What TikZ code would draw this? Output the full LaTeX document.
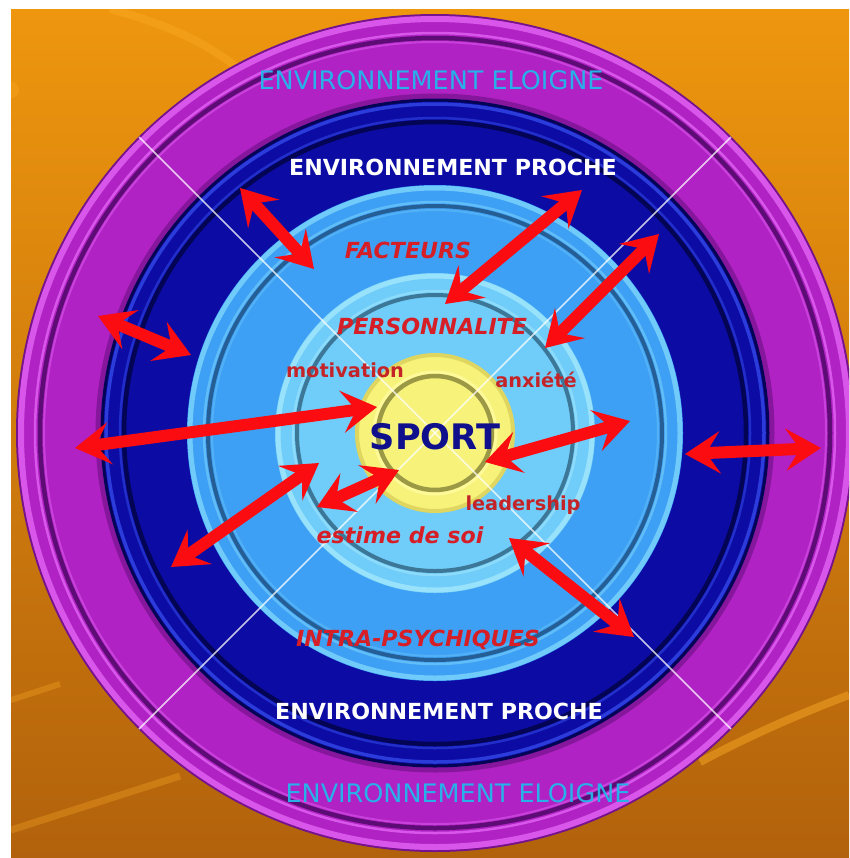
\documentclass[tikz,border=0pt]{standalone}
\usepackage{fontspec}
\setmainfont{DejaVu Sans}
\usetikzlibrary{arrows.meta}
\definecolor{bgtop}{RGB}{238,150,14}
\definecolor{bgbottom}{RGB}{178,98,12}
\definecolor{swoosh}{RGB}{255,176,40}
\definecolor{farring}{RGB}{176,34,196}
\definecolor{farrim}{RGB}{216,86,234}
\definecolor{fardark}{RGB}{92,12,116}
\definecolor{nearring}{RGB}{12,12,165}
\definecolor{neardark}{RGB}{4,4,84}
\definecolor{nearrim}{RGB}{44,60,218}
\definecolor{factring}{RGB}{62,160,244}
\definecolor{factdark}{RGB}{30,78,126}
\definecolor{factrim}{RGB}{112,202,250}
\definecolor{persring}{RGB}{112,204,248}
\definecolor{persdark}{RGB}{48,98,128}
\definecolor{persrim}{RGB}{152,226,252}
\definecolor{core}{RGB}{246,242,122}
\definecolor{coreedge}{RGB}{222,214,96}
\definecolor{coredark}{RGB}{140,138,60}
\definecolor{eloigne}{RGB}{40,176,232}
\definecolor{facteur}{RGB}{214,30,38}
\definecolor{traitred}{RGB}{196,36,40}
\definecolor{sportblue}{RGB}{16,16,140}
\definecolor{arrowred}{RGB}{250,12,16}
\tikzset{link/.style={draw=arrowred,line width=2.4mm,
           {Stealth[length=7mm,width=8.4mm,inset=2.8mm]}-{Stealth[length=7mm,width=8.4mm,inset=2.8mm]}},
         axis/.style={draw=white,line width=0.3mm,opacity=0.75},
         farlabel/.style={inner sep=0pt,text=eloigne,font=\fontsize{14.5}{14.5}\selectfont},
         nearlabel/.style={inner sep=0pt,text=white,font=\bfseries\fontsize{12.6}{12.6}\selectfont},
         factorlabel/.style={inner sep=0pt,text=facteur,font=\bfseries\itshape\fontsize{12.6}{12.6}\selectfont},
         traitlabel/.style={inner sep=0pt,text=traitred,font=\bfseries\fontsize{11}{11}\selectfont},
         sportlabel/.style={inner sep=0pt,text=sportblue,font=\bfseries\fontsize{20}{20}\selectfont}}

\begin{document}
\begin{tikzpicture}[x=0.2mm,y=-0.2mm]
  \useasboundingbox (0,0) rectangle (849,858);
  \fill[white] (0,0) rectangle (849,858);
  \begin{scope}
    \clip (11,9) rectangle (849,858);
    % background and its light streaks
    \shade[top color=bgtop,bottom color=bgbottom] (11,9) rectangle (849,858);
    \draw[swoosh,opacity=0.35,line width=1.6mm] (110,9) .. controls (170,25) and (210,45) .. (240,70);
    \fill[swoosh,opacity=0.3] (11,90) circle[radius=8];
    \draw[swoosh,opacity=0.3,line width=1.4mm] (11,830) -- (180,776);
    \draw[swoosh,opacity=0.3,line width=1.2mm] (11,700) -- (60,684);
    \draw[swoosh,opacity=0.45,line width=1.6mm] (700,762) .. controls (760,730) and (810,710) .. (849,695);

    \coordinate (c) at (435,433);
    % far environment
    \fill[farring] (c) circle[radius=418];
    \draw[fardark!70!farring,line width=0.4mm] (c) circle[radius=418];
    \draw[farrim,line width=1.2mm] (c) circle[radius=414];
    \draw[farrim,line width=0.5mm] (c) circle[radius=400];
    \draw[fardark,line width=0.9mm] (c) circle[radius=395];
    \draw[farrim!60!farring,line width=0.4mm] (c) circle[radius=391];
    \draw[fardark!50!farring,line width=1.0mm] (c) circle[radius=337];
    % near environment
    \fill[nearring] (c) circle[radius=333];
    \draw[neardark,line width=0.6mm] (c) circle[radius=333];
    \draw[nearrim,line width=0.7mm] (c) circle[radius=329];
    \draw[nearrim!70!nearring,line width=0.5mm] (c) circle[radius=315];
    \draw[neardark,line width=0.9mm] (c) circle[radius=311];
    % factors ring
    \fill[factring] (c) circle[radius=248];
    \draw[factrim,line width=1.0mm] (c) circle[radius=245];
    \draw[factrim!70!factring,line width=0.5mm] (c) circle[radius=231];
    \draw[factdark,line width=0.8mm,opacity=0.8] (c) circle[radius=227];
    \draw[factrim!40!factring,line width=0.4mm] (c) circle[radius=223];
    % personality ring
    \fill[persring] (c) circle[radius=160];
    \draw[persrim,line width=1.0mm] (c) circle[radius=157];
    \draw[persrim!70!persring,line width=0.5mm] (c) circle[radius=142];
    \draw[persdark,line width=0.8mm,opacity=0.8] (c) circle[radius=138];
    % sport core
    \fill[core] (c) circle[radius=79];
    \draw[coreedge,line width=0.8mm] (c) circle[radius=78];
    \draw[yellow!40!white,line width=0.6mm] (c) circle[radius=61];
    \draw[coredark,line width=0.9mm,opacity=0.85] (c) circle[radius=57];

    % diagonal separators
    \coordinate (dNW) at (139,137);
    \coordinate (dNE) at (731,137);
    \coordinate (dSE) at (731,729);
    \coordinate (dSW) at (139,729);
    \draw[axis] (dNW) -- (c) -- (dSE);
    \draw[axis] (dNE) -- (c) -- (dSW);
  \end{scope}

  % labels
  \node[farlabel] (farN) at (431,80) {ENVIRONNEMENT ELOIGNE};
  \node[nearlabel] (nearN) at (453,167) {ENVIRONNEMENT PROCHE};
  \node[factorlabel] (facteurs) at (408,250) {FACTEURS};
  \node[factorlabel] (perso) at (432,326) {PERSONNALITE};
  \node[traitlabel] (motiv) at (345,370) {motivation};
  \node[traitlabel] (anx) at (536,380) {anxiété};
  \node[sportlabel] (sport) at (435,437) {SPORT};
  \node[traitlabel] (lead) at (523,505) {leadership};
  \node[factorlabel] (estime) at (400,535) {estime de soi};
  \node[factorlabel] (intra) at (418,640) {INTRA-PSYCHIQUES};
  \node[nearlabel] (nearS) at (439,711) {ENVIRONNEMENT PROCHE};
  \node[farlabel] (farS) at (458,793) {ENVIRONNEMENT ELOIGNE};

  % interaction arrows
  \coordinate (a1) at (240,188);  \coordinate (b1) at (314,269);
  \coordinate (a2) at (582,190);  \coordinate (b2) at (445,304);
  \coordinate (a3) at (659,234);  \coordinate (b3) at (545,348);
  \coordinate (a4) at (98,316);   \coordinate (b4) at (191,355);
  \coordinate (a5) at (75,448);   \coordinate (b5) at (377,407);
  \coordinate (a6) at (485,462);  \coordinate (b6) at (630,421);
  \coordinate (a7) at (685,454);  \coordinate (b7) at (821,448);
  \coordinate (a8) at (171,567);  \coordinate (b8) at (319,463);
  \coordinate (a9) at (317,507);  \coordinate (b9) at (399,470);
  \coordinate (a10) at (509,538); \coordinate (b10) at (634,637);
  \draw[link] (a1) -- (b1);
  \draw[link] (a2) -- (b2);
  \draw[link] (a3) -- (b3);
  \draw[link] (a4) -- (b4);
  \draw[link] (a5) -- (b5);
  \draw[link] (a6) -- (b6);
  \draw[link] (a7) -- (b7);
  \draw[link] (a8) -- (b8);
  \draw[link] (a9) -- (b9);
  \draw[link] (a10) -- (b10);
\end{tikzpicture}
\end{document}
